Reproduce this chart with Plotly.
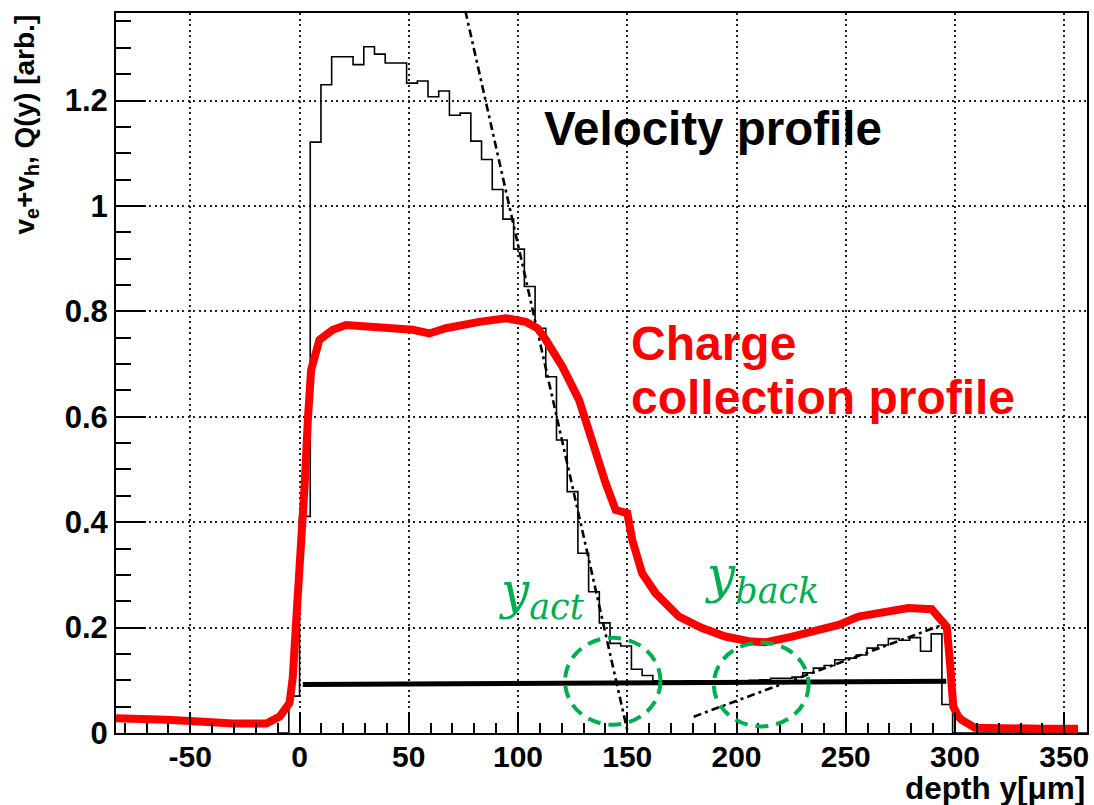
import plotly.graph_objects as go

# ---- velocity profile histogram (v_e + v_h), fixed-width bins in µm ----
bin_width = 4.9
first_bin = -2
velocity = [
    0.0, 0.07, 0.411, 1.121, 1.230, 1.283, 1.283, 1.268, 1.302, 1.288, 1.271, 1.271,
    1.233, 1.237, 1.207, 1.218, 1.172, 1.176, 1.123, 1.088, 1.031, 0.975, 0.918, 0.847,
    0.768, 0.676, 0.556, 0.458, 0.341, 0.268, 0.209, 0.170, 0.165, 0.121, 0.109,
    0.099, 0.098, 0.098, 0.099, 0.098, 0.097, 0.098, 0.099, 0.098, 0.100,
    0.101, 0.104, 0.104, 0.106, 0.114, 0.123, 0.128, 0.139, 0.142, 0.148, 0.161,
    0.167, 0.179, 0.176, 0.181, 0.155, 0.188, 0.054, 0.0,
]

# ---- linear fits to the falling and rising edges ----
fit_front_x = [74.0, 150.0]
fit_front_y = [1.405, 0.005]
fit_back_x = [180.4, 296.0]
fit_back_y = [0.031, 0.208]

# ---- constant level ----
level_x = [1.5, 296.0]
level_y = [0.092, 0.098]

# ---- charge collection profile Q(y) ----
charge_x = [-84, -76, -61, -46, -30.5, -15.2, -9.1, -4.6, -3.1, -1.2, 0.8, 2.3, 3.8, 5.3,
            9.1, 15.2, 21.3, 36.5, 51.8, 59.4, 67.0, 82.2, 94.4, 103.6, 108.9, 112.7,
            120.3, 127.9, 132.5, 135.5, 140.1, 144.7, 150.0, 152.3, 156.8, 163.0, 173.6,
            184.2, 194.9, 205.6, 213.2, 225.4, 237.6, 246.7, 255.8, 271.0, 278.6, 289.3,
            293.1, 296.2, 297.7, 299.2, 301.5, 303.0, 309.1, 320, 340, 356.3]
charge_y = [0.028, 0.028, 0.025, 0.022, 0.018, 0.018, 0.031, 0.057, 0.105, 0.235, 0.341,
            0.467, 0.594, 0.689, 0.746, 0.765, 0.774, 0.771, 0.765, 0.758, 0.768, 0.780,
            0.787, 0.780, 0.768, 0.746, 0.695, 0.632, 0.569, 0.537, 0.474, 0.423, 0.417,
            0.366, 0.303, 0.265, 0.221, 0.199, 0.183, 0.174, 0.172, 0.183, 0.196, 0.205,
            0.221, 0.231, 0.237, 0.235, 0.215, 0.202, 0.133, 0.050, 0.031, 0.025, 0.010,
            0.008, 0.008, 0.008]

# ---- axes ----
x_range = [-84, 360.4]
y_range = [0, 1.366]
x_ticks = [-50, 0, 50, 100, 150, 200, 250, 300, 350]
x_ticktext = ["-50", "0", "50", "100", "150", "200", "250", "300", "350"]

GREEN = "#00B050"
RED = "#FF0000"
SANS = "Liberation Sans"

# histogram outline as a step line over the bin edges
hist_x = [(first_bin + i) * bin_width for i in range(len(velocity))] + [x_range[1] + 1]
hist_y = velocity + [0.0]

fig = go.Figure()

fig.add_trace(go.Scatter(x=level_x, y=level_y, mode="lines",
                         line=dict(color="black", width=5), hoverinfo="skip"))
fig.add_trace(go.Scatter(x=hist_x, y=hist_y, mode="lines", line_shape="hv",
                         line=dict(color="black", width=1.6), hoverinfo="skip"))
fit_line = dict(color="black", width=2.6, dash="8px,4px,3px,4px")
fig.add_trace(go.Scatter(x=fit_front_x, y=fit_front_y, mode="lines",
                         line=fit_line, hoverinfo="skip"))
fig.add_trace(go.Scatter(x=fit_back_x, y=fit_back_y, mode="lines",
                         line=fit_line, hoverinfo="skip"))
fig.add_trace(go.Scatter(x=charge_x, y=charge_y, mode="lines",
                         line=dict(color=RED, width=8), hoverinfo="skip"))

axis_common = dict(
    showline=True, linecolor="black", linewidth=2, mirror=True,
    ticks="inside", tickcolor="black", tickwidth=1.5,
    showgrid=True, gridcolor="#222222", gridwidth=1.5, griddash="2px,3.5px",
    zeroline=False,
)

fig.update_xaxes(range=x_range, tickmode="array", tickvals=x_ticks, ticktext=x_ticktext,
                 ticklen=21, ticklabelstandoff=-4,
                 tickfont=dict(family=SANS, size=30, color="black", weight="bold"),
                 minor=dict(dtick=10, tick0=0, ticks="inside", ticklen=10.5,
                            tickcolor="black", tickwidth=1.5, showgrid=False),
                 **axis_common)
fig.update_yaxes(range=y_range, tick0=0, dtick=0.2, ticklen=29,
                 tickfont=dict(family=SANS, size=31, color="black", weight="bold"),
                 minor=dict(dtick=0.05, tick0=0, ticks="inside", ticklen=14.6,
                            tickcolor="black", tickwidth=1.5, showgrid=False),
                 **axis_common)

annotations = [
    dict(text="Velocity profile", x=111, y=1.146, xanchor="left", yanchor="middle",
         font=dict(family=SANS, size=47.5, color="black", weight="bold")),
    dict(text="Charge", x=150.8, y=0.739, xanchor="left", yanchor="middle",
         font=dict(family=SANS, size=48, color=RED, weight="bold")),
    dict(text="collection profile", x=150.8, y=0.636, xanchor="left", yanchor="middle",
         font=dict(family=SANS, size=48, color=RED, weight="bold")),
    dict(text="<i>y<sub>act</sub></i>", x=90.5, y=0.262, xanchor="left", yanchor="middle",
         font=dict(family="DejaVu Serif", size=50, color=GREEN)),
    dict(text="<i>y<sub>back</sub></i>", x=184.5, y=0.294, xanchor="left", yanchor="middle",
         font=dict(family="DejaVu Serif", size=50, color=GREEN)),
    dict(text="depth y[\u03bcm]", xref="paper", yref="paper", x=1, y=0,
         xanchor="right", yanchor="top", yshift=-35,
         font=dict(family=SANS, size=31.5, color="black", weight="bold")),
    dict(text="v<sub>e</sub>+v<sub>h</sub>, Q(y) [arb.]", xref="paper", yref="paper",
         x=0, y=1, xanchor="left", yanchor="top", xshift=-110, textangle=-90,
         font=dict(family=SANS, size=28, color="black", weight="bold")),
]
for a in annotations:
    a.setdefault("xref", "x")
    a.setdefault("yref", "y")
    a["showarrow"] = False
    fig.add_annotation(**a)

# dashed circles marking the two intersection points
circle_line = dict(color=GREEN, width=4, dash="13px,8px")
fig.add_shape(type="circle", xref="x", yref="y", x0=121.5, x1=165.2, y0=0.0157, y1=0.1807,
              line=circle_line)
fig.add_shape(type="circle", xref="x", yref="y", x0=189.6, x1=233.0, y0=0.0125, y1=0.1718,
              line=circle_line)

fig.update_layout(
    width=1094, height=805,
    margin=dict(l=116, r=5, t=13, b=72),
    paper_bgcolor="white", plot_bgcolor="white",
    showlegend=False, hovermode=False,
)

fig.write_html("out.html")
